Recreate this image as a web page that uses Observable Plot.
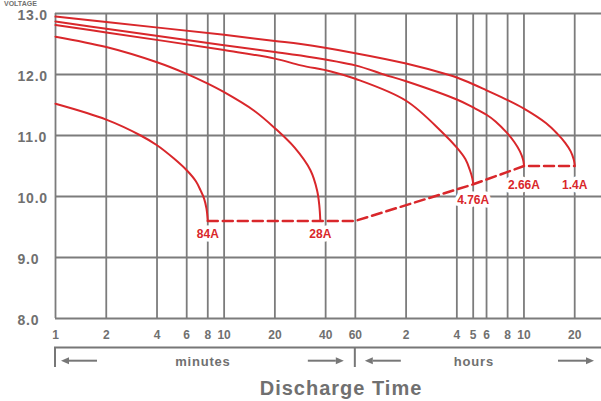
<!DOCTYPE html>
<html><head><meta charset="utf-8">
<script src="https://cdn.jsdelivr.net/npm/d3@7"></script>
<script src="https://cdn.jsdelivr.net/npm/@observablehq/plot@0.6"></script>
<style>
body{margin:0;background:#fff;}
#chart{position:relative;width:601px;height:401px;overflow:hidden;}
</style></head><body><div id="chart"></div>
<script>
// ---- data ----
const yTicks = [8, 9, 10, 11, 12, 13];
const xTickValues = [1, 2, 4, 6, 8, 10, 20, 40, 60, 120, 240, 300, 360, 480, 600, 1200]; // minutes
const xTickLabels = ["1","2","4","6","8","10","20","40","60","2","4","5","6","8","10","20"];

const seriesNames = ["84A", "28A", "4.76A", "2.66A", "1.4A"];
const t84 = [1, 2, 3.2, 4, 5, 6, 6.8, 7.25, 7.6, 7.86, 8];
const v84 = [11.52, 11.26, 11.0, 10.84, 10.63, 10.43, 10.25, 10.10, 9.97, 9.80, 9.6];
const t28 = [1, 2, 4, 6, 8, 10, 15, 20, 26.2, 32.5, 35.6, 36.7, 37.2];
const v28 = [12.62, 12.45, 12.20, 12.01, 11.85, 11.71, 11.41, 11.12, 10.80, 10.43, 10.10, 9.85, 9.6];
const t476 = [1, 2, 10, 20, 28.5, 43, 60, 120, 197, 240, 270, 287, 296.4, 300];
const v476 = [12.81, 12.69, 12.40, 12.26, 12.15, 12.05, 11.93, 11.57, 11.05, 10.80, 10.61, 10.43, 10.30, 10.21];
const t266 = [1, 2, 10, 20, 28.5, 60, 88.6, 120, 240, 300, 360, 407, 473, 527, 568, 592, 600];
const v266 = [12.87, 12.75, 12.48, 12.37, 12.31, 12.15, 12.0, 11.89, 11.59, 11.46, 11.34, 11.23, 11.05, 10.89, 10.74, 10.61, 10.52];
const t14 = [1, 2, 10, 20, 28.5, 60, 120, 211, 240, 300, 360, 480, 600, 813, 945, 1054, 1136, 1183, 1200];
const v14 = [12.95, 12.86, 12.65, 12.55, 12.50, 12.35, 12.18, 12.0, 11.95, 11.84, 11.74, 11.58, 11.44, 11.20, 11.03, 10.88, 10.74, 10.61, 10.52];

// end-of-discharge (cut-off) line
const cutT = [8, 60, 300, 600, 1200];
const cutV = [9.6, 9.6, 10.2, 10.5, 10.5];

// labels at the end of each curve
const labelT = [8, 37.2, 300, 600, 1200];
const labelV = [9.6, 9.6, 10.2, 10.5, 10.5];

// ---- build tables ----
const seriesT = [t84, t28, t476, t266, t14];
const seriesV = [v84, v28, v476, v266, v14];
const curveData = seriesNames.flatMap((name, i) => seriesT[i].map((t, j) => ({name, t, v: seriesV[i][j]})));
const cutData = cutT.map((t, i) => ({t, v: cutV[i]}));
const labels = seriesNames.map((name, i) => ({name, t: labelT[i], v: labelV[i]}));
const xTicks = xTickValues.map((t, i) => ({t, label: xTickLabels[i]}));

const red = "#d9272b";
const gridColor = "#7c7c7c";
const textColor = "#707070";
const font = "'Liberation Sans', Arial, Helvetica, sans-serif";
const labelStyle = {x: "t", y: "v", text: "name", fill: red, fontSize: 12, fontWeight: "bold", stroke: "white", strokeWidth: 7, paintOrder: "stroke"};

const plot = Plot.plot({
  width: 601, height: 401,
  marginLeft: 55, marginRight: 0, marginTop: 13, marginBottom: 83,
  style: {fontFamily: font, background: "white", overflow: "visible"},
  x: {type: "log", domain: [1, 1730], axis: null},
  y: {domain: [8, 13]},
  marks: [
    Plot.ruleY(yTicks, {stroke: gridColor, strokeWidth: 1.8}),
    Plot.ruleX(xTickValues, {stroke: gridColor, strokeWidth: 1.8}),
    Plot.text(xTicks, {x: "t", text: "label", frameAnchor: "bottom", dy: 17, lineAnchor: "middle",
      fontSize: 12, fontWeight: "bold", fill: textColor}),
    Plot.axisY({ticks: yTicks, tickFormat: d3.format(".1f"), tickSize: 0, tickPadding: 38, textAnchor: "start",
      fontSize: 14, fontWeight: "bold", fill: textColor, label: null, dy: 2}),
    Plot.line(cutData, {x: "t", y: "v", stroke: red, strokeWidth: 2.5, strokeDasharray: "10,5"}),
    Plot.line(curveData, {x: "t", y: "v", z: "name", stroke: red, strokeWidth: 2, curve: "catmull-rom"}),
    Plot.text(labels, {...labelStyle, filter: d => d.name === "84A" || d.name === "28A", dy: 13}),
    Plot.text(labels, {...labelStyle, filter: d => d.name === "4.76A", dy: 16}),
    Plot.text(labels, {...labelStyle, filter: d => d.name === "2.66A" || d.name === "1.4A", dy: 19})
  ]
});

document.getElementById("chart").appendChild(plot);

// ---- decorations below the axis ----
const svg = d3.select(plot);
svg.selectAll('g[aria-label="y-axis tick label"] text').attr("letter-spacing", "0.8");
const xs = plot.scale("x");
const x1 = xs.apply(1), x60 = xs.apply(60), xEnd = 601;
const yBr = 347.5, yArrow = 360.7, yTickEnd = 367;
const deco = svg.append("g").attr("fill", "none").attr("stroke", "#777").attr("stroke-width", 2);
deco.append("path").attr("d", `M${x1},${yTickEnd}V${yBr}H${xEnd}`);
deco.append("path").attr("d", `M${x60},${yBr}V${yTickEnd}`);
function arrow(tip, dir) {
  const len = 36, head = 8, half = 3.5;
  const tail = tip - dir * len;
  const g = svg.append("g");
  g.append("line").attr("x1", tail).attr("x2", tip - dir * head).attr("y1", yArrow).attr("y2", yArrow)
    .attr("stroke", "#777").attr("stroke-width", 2);
  g.append("path").attr("d", `M${tip},${yArrow}L${tip - dir * head},${yArrow - half}L${tip - dir * head},${yArrow + half}Z`)
    .attr("fill", "#777");
}
arrow(x1 + 6, -1);
arrow(x60 - 11, 1);
arrow(x60 + 10, -1);
arrow(xEnd - 7, 1);
const txt = svg.append("g").attr("fill", textColor).attr("font-family", font).attr("font-weight", "bold").attr("text-anchor", "middle");
txt.append("text").attr("x", (x1 + x60) / 2 - 2).attr("y", 365.5).attr("font-size", 13).attr("letter-spacing", 0.8).text("minutes");
txt.append("text").attr("x", (x60 + xEnd) / 2 - 4).attr("y", 365.5).attr("font-size", 13).attr("letter-spacing", 0.8).text("hours");
txt.append("text").attr("x", 341).attr("y", 395).attr("font-size", 20).attr("letter-spacing", 1).text("Discharge Time");
txt.append("text").attr("x", 4).attr("y", 5.5).attr("font-size", 7).attr("text-anchor", "start").text("VOLTAGE");
</script>
</body></html>
